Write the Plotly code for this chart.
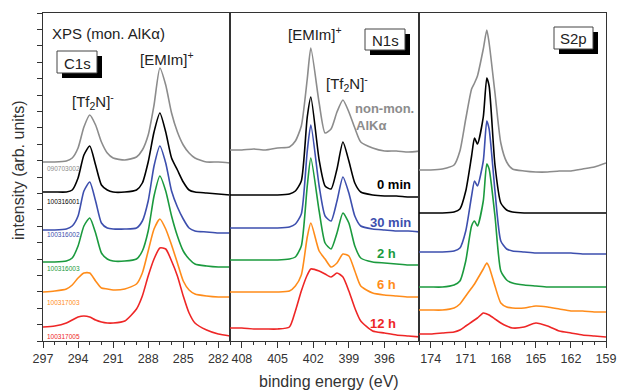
import plotly.graph_objects as go

# ---------------- data (intensity in arbitrary units, spectra already offset) -------------
series_names = ["non-mon. AlKα", "0 min", "30 min", "2 h", "6 h", "12 h"]
sample_ids = ["090703002", "100316001", "100316002", "100316003", "100317003", "100317005"]

c1s_be = [297, 296, 295, 294.5, 294, 293.5, 293, 292.5, 292, 291.5, 291, 290, 289, 288.5,
          288, 287.5, 287, 286.5, 286, 285.5, 285, 284.5, 284, 283, 282, 281]
c1s_nonmon = [179, 179, 180, 183, 193, 214, 226, 216, 199, 188, 183, 181, 184, 191,
              206, 236, 273, 256, 228, 209, 196, 188, 183, 179, 179, 178]
c1s_0min = [149, 149, 149, 151, 163, 186, 195, 176, 156, 151, 149, 149, 151, 158,
            179, 209, 228, 209, 183, 171, 159, 151, 149, 148, 147, 146]
c1s_30min = [111, 111, 112, 115, 125, 150, 159, 140, 118, 113, 112, 112, 113, 120,
             140, 175, 195, 178, 150, 134, 122, 113, 110, 109, 108, 108]
c1s_2h = [79, 79, 80, 83, 95, 115, 123, 108, 88, 82, 80, 80, 82, 90,
          110, 145, 165, 150, 125, 105, 90, 82, 77, 75, 74, 74]
c1s_6h = [49, 50, 52, 56, 63, 68, 68, 60, 53, 52, 51, 52, 57, 68,
          90, 112, 122, 112, 96, 78, 60, 51, 47, 45, 44, 44]
c1s_12h = [14, 15, 18, 21, 24, 25, 24, 21, 19, 18, 18, 20, 32, 45,
           65, 82, 93, 92, 80, 65, 45, 28, 18, 11, 7, 5]

n1s_be = [409, 408, 407, 406, 405, 404, 403.5, 403, 402.5, 402.2, 401.5, 401, 400.5,
          400, 399.5, 399, 398.5, 398, 397, 396, 395, 394, 393]
n1s_nonmon = [191, 191, 192, 191, 193, 194, 200, 215, 262, 293, 238, 208, 212,
              229, 241, 229, 213, 199, 193, 190, 190, 189, 190]
n1s_0min = [146, 146, 146, 146, 146, 147, 150, 160, 224, 244, 181, 155, 152,
            172, 199, 180, 158, 149, 146, 145, 145, 144, 144]
n1s_30min = [113, 113, 113, 113, 113, 114, 117, 127, 190, 216, 155, 125, 120,
             140, 164, 148, 125, 115, 112, 111, 110, 110, 109]
n1s_2h = [81, 81, 81, 81, 81, 82, 84, 95, 155, 183, 130, 98, 92,
          108, 128, 118, 95, 83, 79, 78, 77, 76, 76]
n1s_6h = [49, 49, 49, 49, 49, 50, 55, 66, 104, 118, 90, 82, 74,
          78, 87, 85, 70, 55, 48, 46, 45, 44, 44]
n1s_12h = [13, 13, 12, 12, 12, 14, 30, 50, 66, 72, 70, 67, 64,
           68, 64, 50, 33, 20, 10, 8, 6, 5, 4]

s2p_be = [175, 174, 173, 172, 171.5, 171, 170.5, 170.25, 170, 169.5, 169.2, 169, 168.5,
          168, 167.5, 167, 166, 165, 164, 163, 162, 161, 160, 159]
s2p_nonmon = [171, 171, 172, 176, 190, 222, 252, 258, 265, 292, 311, 298, 248,
              198, 179, 172, 170, 169, 169, 170, 170, 172, 174, 178]
s2p_0min = [128, 128, 128, 129, 132, 150, 185, 203, 197, 224, 263, 255, 176,
            138, 131, 129, 128, 128, 128, 128, 128, 128, 128, 128]
s2p_30min = [89, 89, 89, 90, 93, 110, 145, 160, 155, 180, 220, 212, 150,
             100, 92, 90, 89, 88, 88, 88, 88, 87, 87, 87]
s2p_2h = [54, 54, 54, 56, 60, 80, 115, 120, 115, 140, 177, 172, 125,
          70, 61, 58, 56, 55, 54, 54, 54, 54, 54, 54]
s2p_6h = [31, 31, 31, 33, 37, 45, 53, 57, 62, 72, 78, 74, 55,
          38, 34, 33, 33, 35, 34, 32, 30, 30, 29, 29]
s2p_12h = [7, 7, 8, 9, 11, 15, 19, 21, 23, 28, 27, 26, 22,
           18, 15, 13, 14, 18, 15, 10, 8, 6, 5, 4]

# ---------------- styling ----------------
colors = ["#8c8c8c", "#000000", "#3d4fae", "#1b9a3e", "#ff8c1a", "#ee2626"]
FONT = "Liberation Sans, Arial, sans-serif"

W, H = 617, 391
L, R, T, B = 43, 606, 13, 341  # plot area in page pixels


def px(x):
    return (x - L) / (R - L)


def py(y):
    return (B - y) / (B - T)


panels = [
    (c1s_be, [c1s_nonmon, c1s_0min, c1s_30min, c1s_2h, c1s_6h, c1s_12h], "x", "y"),
    (n1s_be, [n1s_nonmon, n1s_0min, n1s_30min, n1s_2h, n1s_6h, n1s_12h], "x2", "y2"),
    (s2p_be, [s2p_nonmon, s2p_0min, s2p_30min, s2p_2h, s2p_6h, s2p_12h], "x3", "y3"),
]

fig = go.Figure()
for be, curves, xa, ya in panels:
    for name, col, vals in zip(series_names, colors, curves):
        fig.add_trace(go.Scatter(x=be, y=vals, mode="lines", name=name, xaxis=xa, yaxis=ya,
                                 line=dict(color=col, width=1.6, shape="spline",
                                           smoothing=0.6),
                                 showlegend=False, hoverinfo="skip"))

axis_line = dict(showline=True, linecolor="#333333", linewidth=1.3, mirror=True,
                 showgrid=False, zeroline=False, automargin=False)


def xaxis(domain, rng, t0):
    return dict(domain=domain, range=rng, tickmode="linear", tick0=t0, dtick=3,
                ticks="outside", ticklen=6, tickwidth=1.3, tickcolor="#333333",
                minor=dict(ticks="outside", ticklen=3, dtick=1, tick0=t0,
                           tickcolor="#333333", tickwidth=1.1),
                tickfont=dict(family=FONT, size=12.5, color="#333333"), **axis_line)


d1 = [0, px(230)]
d2 = [px(230), px(419)]
d3 = [px(419), 1]

fig.update_layout(
    width=W, height=H, autosize=False,
    margin=dict(l=L, r=W - R, t=T, b=H - B, autoexpand=False),
    paper_bgcolor="white", plot_bgcolor="white",
    xaxis=dict(anchor="y", **xaxis(d1, [297, 281], 297)),
    xaxis2=dict(anchor="y2", **xaxis(d2, [409, 393.1], 408)),
    xaxis3=dict(anchor="y3", **xaxis(d3, [175, 159], 174)),
    yaxis=dict(anchor="x", range=[0, 328], ticks="outside", ticklen=5, tickwidth=1.2,
               tickcolor="#333333", tickmode="linear", tick0=0, dtick=16.4,
               showticklabels=False, **axis_line),
    yaxis2=dict(anchor="x2", matches="y", range=[0, 328], showticklabels=False, ticks="",
                **axis_line),
    yaxis3=dict(anchor="x3", matches="y", range=[0, 328], showticklabels=False, ticks="",
                **axis_line),
    showlegend=False,
)

shapes = []
annotations = []


def label(text, x, y, size=15, color="#222222", xanchor="center", bold=False, angle=0):
    if bold:
        text = "<b>" + text + "</b>"
    annotations.append(dict(text=text, x=px(x), y=py(y), xref="paper", yref="paper",
                            xanchor=xanchor, yanchor="middle", showarrow=False,
                            textangle=angle,
                            font=dict(family=FONT, size=size, color=color)))


def box(text, x0, y0, x1, y1):
    shapes.append(dict(type="rect", xref="paper", yref="paper", x0=px(x0 + 5), x1=px(x1 + 5),
                       y0=py(y1 + 5), y1=py(y0 + 5), fillcolor="black", line=dict(width=0)))
    shapes.append(dict(type="rect", xref="paper", yref="paper", x0=px(x0), x1=px(x1),
                       y0=py(y1), y1=py(y0), fillcolor="white",
                       line=dict(color="#444444", width=1)))
    label(text, (x0 + x1) / 2, (y0 + y1) / 2 + 1, size=15)


# C1s panel
label("XPS (mon. AlKα)", 50, 33, size=15, xanchor="left")
box("C1s", 57, 51, 97, 73)
label("[EMIm]<sup>+</sup>", 167, 58)
label("[Tf<sub>2</sub>N]<sup>-</sup>", 93, 101)
sid_y = [168, 201, 235, 268, 302, 336]
for sid, col, yy in zip(sample_ids, colors, sid_y):
    label(sid, 45, yy, size=6.5, color=col, xanchor="left")

# N1s panel
label("[EMIm]<sup>+</sup>", 315, 34)
label("[Tf<sub>2</sub>N]<sup>-</sup>", 347, 84)
box("N1s", 365, 29, 405, 50)
label("non-mon.", 353, 108, size=13, color=colors[0], xanchor="left", bold=True)
label("AlKα", 354, 126, size=13, color=colors[0], xanchor="left", bold=True)
time_pos = [(413, 184), (413, 222), (398, 253), (398, 284), (398, 323)]
for name, col, (xx, yy) in zip(series_names[1:], colors[1:], time_pos):
    label(name, xx, yy, size=13, color=col, xanchor="right", bold=True)

# S2p panel
box("S2p", 554, 27, 593, 49)

# axis titles
label("binding energy (eV)", 329, 381, size=16, color="#333333")
label("intensity (arb. units)", 18, 170, size=16, color="#333333", angle=-90)

fig.update_layout(shapes=shapes, annotations=annotations)
fig.write_html("out.html", config={"displayModeBar": False},
               post_script="document.body.style.margin='0px';"
                           "document.body.style.overflow='hidden';")
